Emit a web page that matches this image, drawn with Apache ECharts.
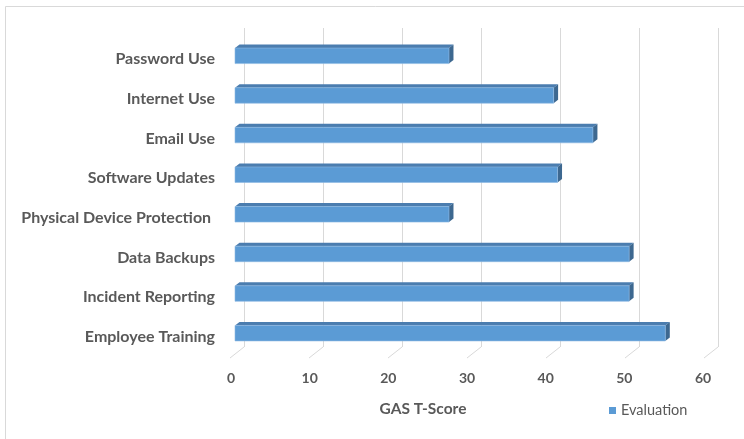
<!DOCTYPE html>
<html>
<head>
<meta charset="utf-8">
<script src="https://cdn.jsdelivr.net/npm/echarts@6/dist/echarts.min.js"></script>
<style>
  html, body { margin: 0; padding: 0; background: #ffffff; }
  #chart { width: 744px; height: 439px; }
</style>
</head>
<body>
<div id="chart"></div>
<script>
// Security practice areas, top to bottom
const categories = [
  'Password Use',
  'Internet Use',
  'Email Use',
  'Software Updates',
  'Physical Device Protection ',
  'Data Backups',
  'Incident Reporting',
  'Employee Training'
];
// GAS T-Score per area
const scores = [27.2, 40.5, 45.5, 41.0, 27.2, 50.1, 50.1, 54.7];
// Value axis ticks
const ticks = [0, 10, 20, 30, 40, 50, 60];
const seriesName = 'Evaluation';

const FONT = 'Lato, "Open Sans", sans-serif';
const TEXT = '#595959';
const GRID = '#d9d9d9';
const FRONT = '#5B9BD5';
const TOP = '#4B7DAF';
const SIDE = '#3D6890';

// 3D slab: front face plus top and end faces
function renderBar(params, api) {
  const idx = api.value(0);
  const v = api.value(1);
  const a = api.coord([0, idx]);
  const b = api.coord([v, idx]);
  const h = 15.5, dx = 4.5, dy = -3.5;
  const x0 = a[0], x1 = b[0];
  const y0 = a[1] - h / 2;
  return {
    type: 'group',
    children: [
      { type: 'polygon', shape: { points: [[x0, y0], [x1, y0], [x1 + dx, y0 + dy], [x0 + dx, y0 + dy]] },
        style: { fill: TOP } },
      { type: 'polygon', shape: { points: [[x1, y0], [x1 + dx, y0 + dy], [x1 + dx, y0 + h + dy], [x1, y0 + h]] },
        style: { fill: SIDE } },
      { type: 'rect', shape: { x: x0, y: y0, width: x1 - x0, height: h },
        style: { fill: FRONT, stroke: '#8DB9E2', lineWidth: 0.6 } }
    ]
  };
}

// Floor lines running from the back wall to the front edge
function renderFloor(params, api) {
  const p = api.coord([api.value(0), 0]);
  return {
    type: 'line',
    shape: { x1: p[0], y1: p[1], x2: p[0] - 14, y2: p[1] + 11 },
    style: { stroke: GRID, lineWidth: 1 }
  };
}

const chart = echarts.init(document.getElementById('chart'));
chart.setOption({
  animation: false,
  backgroundColor: '#ffffff',
  graphic: [{
    type: 'rect', silent: true,
    shape: { x: 5.5, y: 6.5, width: 900, height: 600 },
    style: { fill: 'none', stroke: GRID, lineWidth: 1 }
  }],
  legend: {
    left: 604, top: 398,
    icon: 'rect', itemWidth: 7, itemHeight: 7, itemGap: 5,
    textStyle: { color: TEXT, fontFamily: FONT, fontSize: 14.5 },
    data: [{ name: seriesName, itemStyle: { color: FRONT } }]
  },
  grid: [
    { left: 244, right: 26, top: 28, bottom: 92 },
    { left: 235, width: 472, top: 36, height: 317 }
  ],
  xAxis: [
    { gridIndex: 0, type: 'value', min: 0, max: 60, interval: 10,
      axisLine: { show: false }, axisTick: { show: false }, axisLabel: { show: false },
      splitLine: { show: true, lineStyle: { color: GRID, width: 1 } } },
    { gridIndex: 1, type: 'value', min: 0, max: 60, interval: 10,
      axisLine: { show: false }, axisTick: { show: false }, splitLine: { show: false },
      axisLabel: { color: TEXT, fontFamily: FONT, fontSize: 14, fontWeight: 'bold', margin: 18,
                   padding: [0, 8, 0, 0] },
      name: 'GAS T-Score', nameLocation: 'middle', nameGap: 48,
      nameTextStyle: { color: TEXT, fontFamily: FONT, fontSize: 15.5, fontWeight: 'bold',
                       padding: [0, 96, 0, 0] } }
  ],
  yAxis: [
    { gridIndex: 0, type: 'value', min: 0, max: 1, show: false },
    { gridIndex: 1, type: 'category', data: categories, inverse: true,
      axisLine: { show: false }, axisTick: { show: false },
      axisLabel: {
        margin: 20,
        formatter: v => '{c|' + v + '}',
        rich: { c: { color: TEXT, fontFamily: FONT, fontSize: 16, fontWeight: 'bold', padding: [7, 0, 0, 0] } }
      } }
  ],
  series: [
    { type: 'custom', name: 'floor', xAxisIndex: 0, yAxisIndex: 0, silent: true,
      renderItem: renderFloor, data: ticks.map(t => [t]), encode: { x: 0 } },
    { type: 'custom', name: seriesName, xAxisIndex: 1, yAxisIndex: 1,
      itemStyle: { color: FRONT },
      renderItem: renderBar,
      data: scores.map((s, i) => [i, s]),
      encode: { y: 0, x: 1 } }
  ]
});
</script>
</body>
</html>
